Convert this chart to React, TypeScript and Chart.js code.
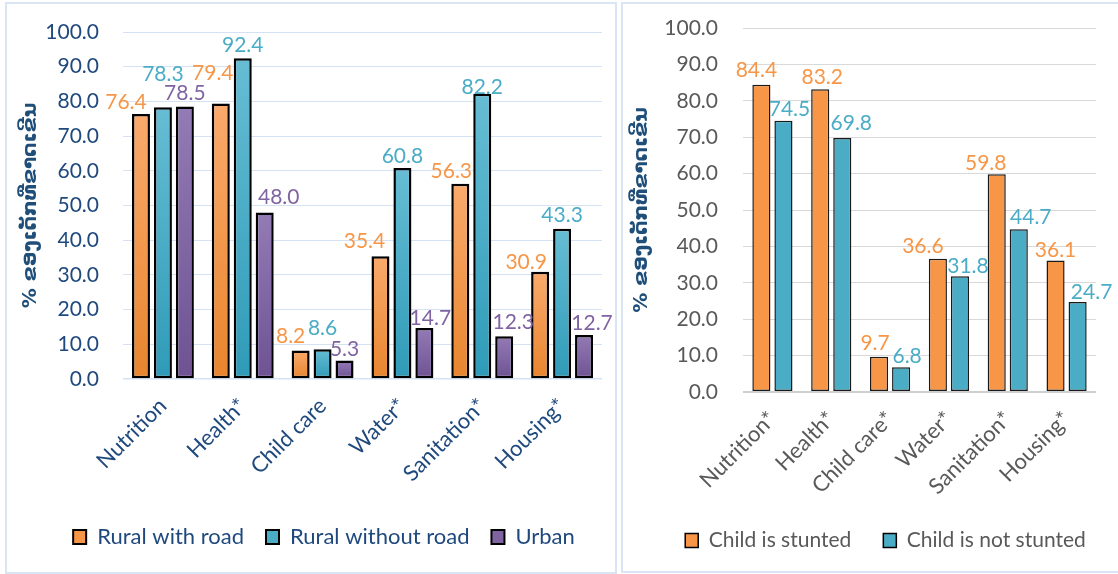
import React, { useEffect, useRef } from 'react';
import { Chart, registerables } from 'chart.js';

Chart.register(...registerables);

// ---- Left panel: deprivation by location ----
const locationCategories = ['Nutrition', 'Health*', 'Child care', 'Water*', 'Sanitation*', 'Housing*'];
const ruralWithRoad = [76.4, 79.4, 8.2, 35.4, 56.3, 30.9];
const ruralWithoutRoad = [78.3, 92.4, 8.6, 60.8, 82.2, 43.3];
const urban = [78.5, 48.0, 5.3, 14.7, 12.3, 12.7];

// ---- Right panel: deprivation by stunting status ----
const stuntingCategories = ['Nutrition*', 'Health*', 'Child care*', 'Water*', 'Sanitation*', 'Housing*'];
const childStunted = [84.4, 83.2, 9.7, 36.6, 59.8, 36.1];
const childNotStunted = [74.5, 69.8, 6.8, 31.8, 44.7, 24.7];

const yMin = 0;
const yMax = 100;
const yStep = 10;
const yTitle = '% ຂອງເດັກທີ່ຂາດເຂີນ';

// Value-label nudges [dx, dy] in pixels, so labels of neighbouring bars don't collide
const ruralRoadNudge = [[-15, 0], [-8, -18], [-10, -2], [-16, -3], [-9, 0], [-14, 2]];
const ruralNoRoadNudge = [[0, -21], [0, -1], [0, -9], [0, 0], [0, 5], [0, -2]];
const urbanNudge = [[0, -1], [14, -3], [0, 1], [6, 2], [9, -2], [8, 0]];
const stuntedNudge = [[-5, -3], [2, 0], [-4, -1], [-15, -1], [-11, 1], [0, 2]];
const notStuntedNudge = [[6, 0], [9, -3], [6, 1], [8, 2], [12, 0], [14, 2]];

const ORANGE = '#F79646';
const TEAL = '#4BACC6';
const PURPLE = '#8064A2';
const NAVY = '#1F497D';
const GREY_TEXT = '#595959';
const FONT = 'Lato, "Open Sans", sans-serif';

// Vertical gradient per bar, from its top down to the zero line
const barGradient = (top: string, bottom: string) => (ctx: any) => {
  if (ctx.type !== 'data') return top;
  const chart = ctx.chart;
  const yScale = chart.scales.y;
  if (!yScale) return top;
  const y0 = yScale.getPixelForValue(ctx.raw);
  const y1 = yScale.getPixelForValue(0);
  if (!isFinite(y0) || !isFinite(y1) || Math.abs(y1 - y0) < 1) return top;
  const g = chart.ctx.createLinearGradient(0, y0, 0, y1);
  g.addColorStop(0, top);
  g.addColorStop(1, bottom);
  return g;
};

const valueLabels = {
  id: 'valueLabels',
  afterDatasetsDraw(chart: any, _args: any, opts: any) {
    const { ctx } = chart;
    ctx.save();
    ctx.font = opts.font;
    ctx.textAlign = 'center';
    ctx.textBaseline = 'middle';
    chart.data.datasets.forEach((ds: any, di: number) => {
      const meta = chart.getDatasetMeta(di);
      const nudges = opts.nudges[di];
      ctx.fillStyle = opts.colors[di];
      meta.data.forEach((bar: any, i: number) => {
        const [dx, dy] = nudges[i];
        ctx.fillText(Number(ds.data[i]).toFixed(1), bar.x + dx, bar.y - opts.gap + dy);
      });
    });
    ctx.restore();
  },
};

const legendShift = {
  id: 'legendShift',
  afterLayout(chart: any, _args: any, opts: any) {
    const l = chart.legend;
    if (!l || !opts) return;
    l.left += opts.dx;
    l.right += opts.dx;
    l.top += opts.dy;
    l.bottom += opts.dy;
  },
};

type PanelSpec = {
  labels: string[];
  datasets: any[];
  textColor: string;
  gridColor: string;
  zeroLineColor: string;
  zeroLineWidth: number;
  rightGutter: number;
  padTop: number;
  yAxisWidth: number;
  xAxisHeight: number;
  labelOffset: number;
  titlePadding: number;
  legendFontSize: number;
  legendPadding: number;
  legendShift: { dx: number; dy: number };
  labelColors: string[];
  nudges: number[][][];
  legendFills: string[];
  legendBorder: number;
};

function buildConfig(spec: PanelSpec): any {
  return {
    type: 'bar',
    data: { labels: spec.labels, datasets: spec.datasets },
    options: {
      responsive: false,
      animation: false,
      devicePixelRatio: 1,
      layout: { padding: { left: 0, right: 0, top: spec.padTop, bottom: 0 } },
      scales: {
        x: {
          grid: { display: false },
          border: { display: false },
          ticks: {
            color: spec.textColor,
            font: { family: FONT, size: 22 },
            minRotation: 45,
            maxRotation: 45,
            padding: 6,
          },
          afterFit: (s: any) => {
            s.height = spec.xAxisHeight;
          },
        },
        y: {
          min: yMin,
          max: yMax,
          ticks: {
            stepSize: yStep,
            autoSkip: false,
            color: spec.textColor,
            font: { family: FONT, size: 21 },
            padding: 2,
            callback: (v: any) => Number(v).toFixed(1),
          },
          grid: {
            drawTicks: true,
            tickLength: spec.labelOffset,
            tickColor: 'rgba(0,0,0,0)',
            color: (c: any) => (c.tick && c.tick.value === 0 ? spec.zeroLineColor : spec.gridColor),
            lineWidth: (c: any) => (c.tick && c.tick.value === 0 ? spec.zeroLineWidth : 1),
          },
          border: { display: false },
          title: {
            display: true,
            text: yTitle,
            color: '#1F4E79',
            font: { family: '"DejaVu Sans", sans-serif', size: 20, weight: 'bold' },
            padding: { top: spec.titlePadding, bottom: 0 },
          },
          afterFit: (s: any) => {
            s.width = spec.yAxisWidth;
          },
        },
        // empty gutter on the right of the plot area
        gutter: {
          type: 'linear',
          position: 'right',
          min: 0,
          max: 1,
          grid: { display: false },
          border: { display: false },
          ticks: { display: false },
          afterFit: (s: any) => {
            s.width = spec.rightGutter;
          },
        },
      },
      plugins: {
        tooltip: { enabled: false },
        legend: {
          position: 'bottom',
          labels: {
            color: spec.textColor,
            font: { family: FONT, size: spec.legendFontSize },
            boxWidth: 13,
            boxHeight: 14,
            padding: spec.legendPadding,
            generateLabels: (chart: any) =>
              chart.data.datasets.map((ds: any, i: number) => ({
                text: ds.label,
                fillStyle: spec.legendFills[i],
                strokeStyle: '#000000',
                lineWidth: spec.legendBorder,
                fontColor: spec.textColor,
                hidden: false,
                datasetIndex: i,
              })),
          },
        },
        valueLabels: {
          font: `21px ${FONT}`,
          gap: 12,
          colors: spec.labelColors,
          nudges: spec.nudges,
        },
        legendShift: spec.legendShift,
      },
    },
    plugins: [valueLabels, legendShift],
  };
}

function ChartCanvas({ spec, width, height }: { spec: PanelSpec; width: number; height: number }) {
  const ref = useRef<HTMLCanvasElement | null>(null);
  useEffect(() => {
    if (!ref.current) return;
    const chart = new Chart(ref.current, buildConfig(spec));
    return () => chart.destroy();
  }, [spec]);
  return <canvas ref={ref} width={width} height={height} style={{ width, height, display: 'block' }} />;
}

const locationSpec: PanelSpec = {
  labels: locationCategories,
  datasets: [
    {
      label: 'Rural with road',
      data: ruralWithRoad,
      backgroundColor: barGradient('#FAAA6C', '#E8852E'),
      borderColor: '#000000',
      borderWidth: 2.5,
      borderSkipped: false,
      categoryPercentage: 0.825,
      barPercentage: 0.82,
    },
    {
      label: 'Rural without road',
      data: ruralWithoutRoad,
      backgroundColor: barGradient('#66BDD4', '#2F9BB8'),
      borderColor: '#000000',
      borderWidth: 2.5,
      borderSkipped: false,
      categoryPercentage: 0.825,
      barPercentage: 0.82,
    },
    {
      label: 'Urban',
      data: urban,
      backgroundColor: barGradient('#937BB5', '#6E5293'),
      borderColor: '#000000',
      borderWidth: 2.5,
      borderSkipped: false,
      categoryPercentage: 0.825,
      barPercentage: 0.82,
    },
  ],
  textColor: NAVY,
  gridColor: '#D4E2F4',
  zeroLineColor: '#D4E2F4',
  zeroLineWidth: 1.5,
  rightGutter: 13,
  padTop: 28,
  yAxisWidth: 116,
  xAxisHeight: 139,
  labelOffset: 22,
  titlePadding: 12,
  legendFontSize: 22,
  legendPadding: 22,
  legendShift: { dx: 13, dy: -14 },
  labelColors: [ORANGE, TEAL, PURPLE],
  nudges: [ruralRoadNudge, ruralNoRoadNudge, urbanNudge],
  legendFills: [ORANGE, TEAL, PURPLE],
  legendBorder: 2,
};

const stuntingSpec: PanelSpec = {
  labels: stuntingCategories,
  datasets: [
    {
      label: 'Child is stunted',
      data: childStunted,
      backgroundColor: ORANGE,
      borderColor: '#1A1A1A',
      borderWidth: 1.5,
      borderSkipped: false,
      categoryPercentage: 0.75,
      barPercentage: 0.82,
    },
    {
      label: 'Child is not stunted',
      data: childNotStunted,
      backgroundColor: TEAL,
      borderColor: '#1A1A1A',
      borderWidth: 1.5,
      borderSkipped: false,
      categoryPercentage: 0.75,
      barPercentage: 0.82,
    },
  ],
  textColor: GREY_TEXT,
  gridColor: '#D9D9D9',
  zeroLineColor: '#CFCFCF',
  zeroLineWidth: 2,
  rightGutter: 22,
  padTop: 24,
  yAxisWidth: 120,
  xAxisHeight: 117,
  labelOffset: 23,
  titlePadding: 7,
  legendFontSize: 21,
  legendPadding: 32,
  legendShift: { dx: 15, dy: -11 },
  labelColors: [ORANGE, TEAL],
  nudges: [stuntedNudge, notStuntedNudge],
  legendFills: [ORANGE, TEAL],
  legendBorder: 1.5,
};

const panelBorder = '2px solid #D9E5F4';

export default function App() {
  return (
    <div
      style={{
        position: 'absolute',
        left: 0,
        top: 0,
        width: 1118,
        height: 574,
        overflow: 'hidden',
        background: '#FFFFFF',
      }}
    >
      <div
        style={{
          position: 'absolute',
          left: 5,
          top: 2,
          width: 612,
          height: 572,
          border: panelBorder,
          boxSizing: 'border-box',
        }}
      />
      <div
        style={{
          position: 'absolute',
          left: 621,
          top: 2,
          width: 500,
          height: 571,
          border: panelBorder,
          boxSizing: 'border-box',
        }}
      />
      <div style={{ position: 'absolute', left: 7, top: 4 }}>
        <ChartCanvas spec={locationSpec} width={608} height={568} />
      </div>
      <div style={{ position: 'absolute', left: 623, top: 4 }}>
        <ChartCanvas spec={stuntingSpec} width={495} height={568} />
      </div>
    </div>
  );
}
